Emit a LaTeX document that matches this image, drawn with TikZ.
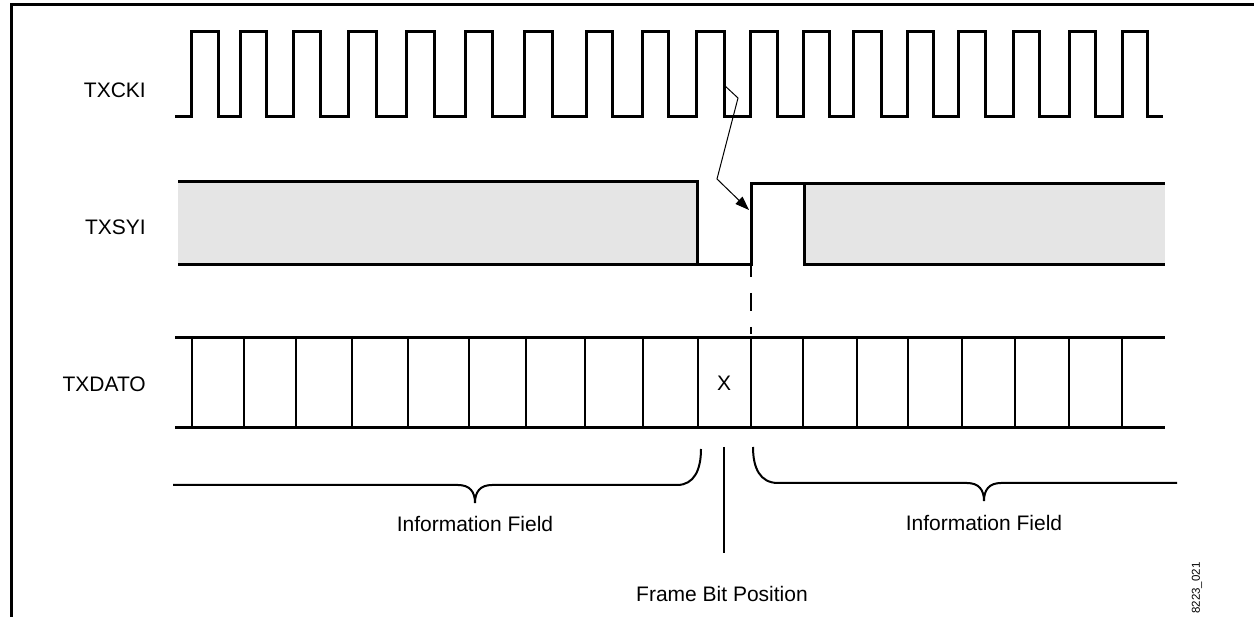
\documentclass[tikz,border=0pt]{standalone}
\usepackage{fontspec}
\setmainfont{Liberation Sans}
\usetikzlibrary{arrows.meta}
\definecolor{boxgrey}{HTML}{E5E5E5}
\begin{document}
\begin{tikzpicture}[x=1pt,y=-1pt,
  sig/.style={line width=3pt,line join=miter},
  cell/.style={line width=2pt},
  brc/.style={line width=2pt},
  lbl/.style={font=\fontsize{21}{25}\selectfont,inner sep=0pt},
  signame/.style={lbl,anchor=east}]
\useasboundingbox (0,0) rectangle (1254,617);
% frame
\draw[line width=3pt] (1254,5) -- (11,5) -- (11,617);
% signal names
\node[signame] (ck) at (146,90) {TXCKI};
\node[signame] (sy) at (146,227) {TXSYI};
\node[signame] (da) at (146,384) {TXDATO};
% clock
\draw[sig] (175,117) foreach \r/\f in {191/218,240/266,293/320,348/376,406/434,465/492,524/552,586/612,642/668,696/724,750/777,803/829,853/881,907/933,958/985,1013/1039,1069/1095,1122/1147}{ -- (\r,117) -- (\r,32) -- (\f,32) -- (\f,117)} -- (1163,117);
\coordinate (edge) at (724,85);
% TXSYI
\fill[boxgrey] (178,182) rectangle (697,265);
\fill[boxgrey] (804,184) rectangle (1165,265);
\draw[sig] (178,182) -- (697,182) -- (697,265);
\draw[sig] (178,265) -- (751,265) -- (751,184) -- (1165,184);
\draw[sig] (804,184) -- (804,265) -- (1165,265);
\coordinate (syrise) at (749,210);
\draw[line width=1pt,-{Triangle[length=14pt,width=10pt]}] (edge) -- (738,98) -- (717,179) -- (syrise);
% dashed
\draw[line width=2pt,dash pattern=on 18pt off 16pt,dash phase=7pt] (751,266) -- (751,334);
% TXDATO
\draw[sig] (175,338) -- (1165,338);
\draw[sig] (175,428) -- (1165,428);
\foreach \x in {192,244,296,352,408,469,526,585,643,698,751,803,857,908,962,1015,1069,1122}
  \draw[cell] (\x,338) -- (\x,428);
\node[lbl] (xb) at (724,383) {X};
% braces
\draw[brc] (173,485) -- (458,485) .. controls (470,485) and (475,492) .. (475,503)
  .. controls (475,492) and (480,485) .. (492,485) -- (677,485)
  .. controls (694,485) and (701,470) .. (701,449);
\draw[brc] (753,447) .. controls (753,468) and (760,483) .. (778,483) -- (967,483)
  .. controls (979,483) and (984,490) .. (984,501)
  .. controls (984,490) and (989,483) .. (1001,483) -- (1177,483);
\node[lbl] (if1) at (475,524) {Information Field};
\node[lbl] (if2) at (984,523) {Information Field};
\draw[brc] (724,447) -- (724,553);
\node[lbl] (fb) at (722,594) {Frame Bit Position};
\node[font=\fontsize{11.5}{13}\selectfont,rotate=90,inner sep=0pt] (id) at (1197,588) {8223\_021};
\end{tikzpicture}
\end{document}
